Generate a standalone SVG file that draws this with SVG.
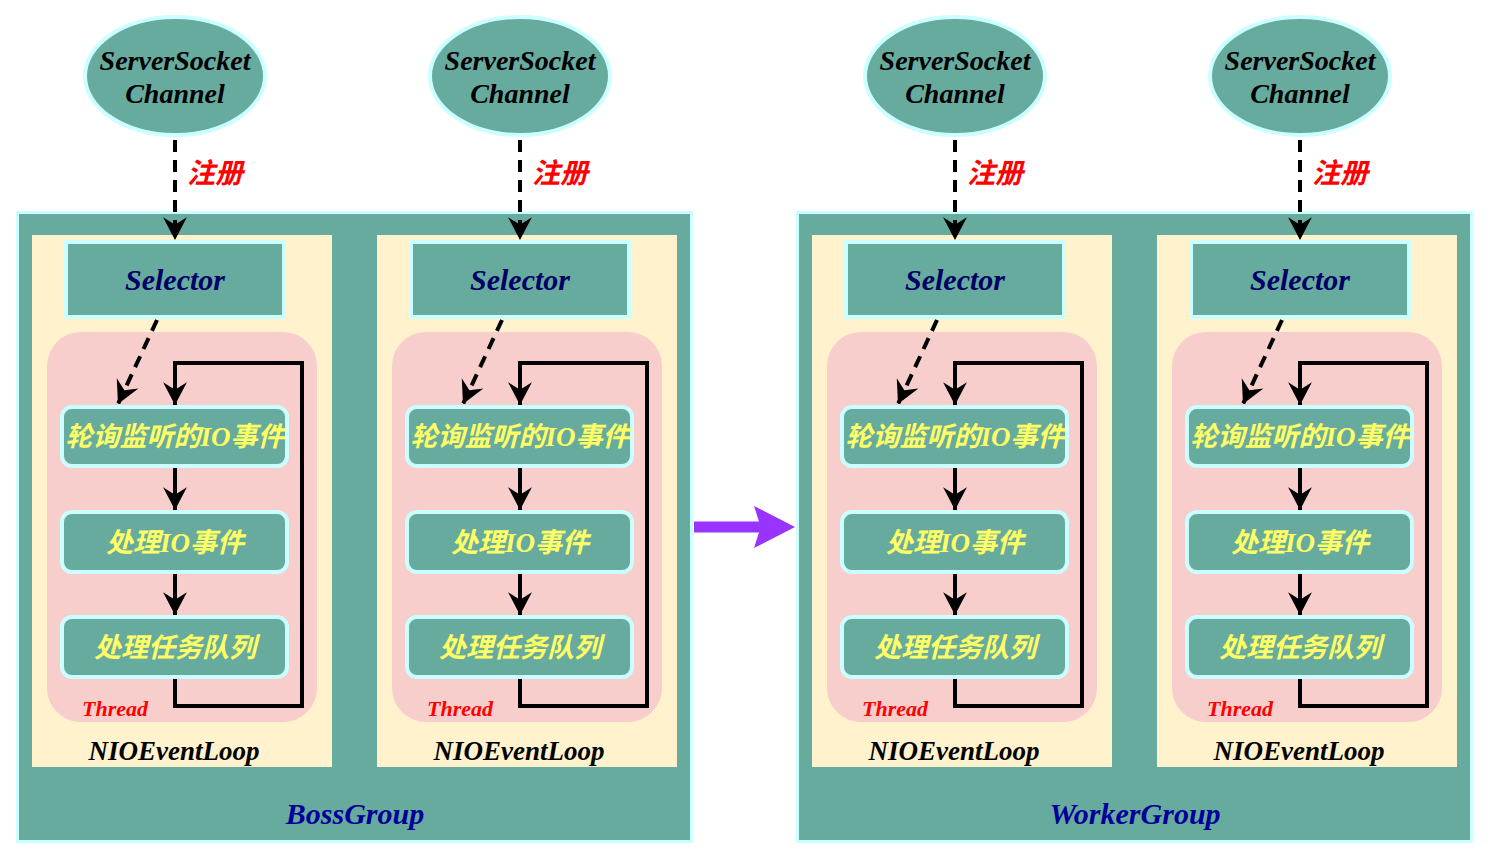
<svg xmlns="http://www.w3.org/2000/svg" width="1490" height="860" viewBox="0 0 1490 860">
<style>
.grp{fill:#67AB9F;stroke:#CCFFFF;stroke-width:3}
.loop{fill:#FFF2CC;stroke:none}
.thr{fill:#F8CECC;stroke:none}
.sel{fill:#67AB9F;stroke:#CCFFFF;stroke-width:4}
.step{fill:#67AB9F;stroke:#CCFFFF;stroke-width:4}
.ell{fill:#67AB9F;stroke:#CCFFFF;stroke-width:4}
.ser{font-family:"Liberation Serif","Noto Sans CJK SC",serif;font-style:italic;font-weight:bold;text-anchor:middle}
.cjk{font-family:"Liberation Serif","Noto Sans CJK SC",sans-serif;font-style:italic;font-weight:bold;text-anchor:middle}
.ssc{font-size:28px;fill:#000}
.selt{font-size:30px;fill:#000066}
.stept{font-size:27px;fill:#FFFF66}
.reg{font-size:28px;fill:#FF0000}
.thrt{font-size:22px;fill:#FF0000;text-anchor:start}
.nio{font-size:27px;fill:#000}
.gname{font-size:30px;fill:#000099}
.dash{fill:none;stroke:#000;stroke-width:4;stroke-dasharray:12 8}
.solid{fill:none;stroke:#000;stroke-width:4}
</style>
<defs>
<marker id="ah" markerUnits="userSpaceOnUse" markerWidth="26" markerHeight="26" viewBox="-22 -12 24 24" refX="0" refY="0" orient="auto">
<path d="M0,0 L-21,-11 L-14,0 L-21,11 Z" fill="#000"/>
</marker>
<g id="column">
<rect class="loop" x="32" y="235" width="300" height="532"/>
<rect class="thr" x="47" y="332" width="270" height="390" rx="34" ry="34"/>
</g>
</defs>

<g id="BossGroup">
<rect class="grp" x="17.5" y="212.5" width="674" height="629"/>
<text class="ser gname" x="355" y="824">BossGroup</text>
</g>
<g id="WorkerGroup">
<rect class="grp" x="797.5" y="212.5" width="674" height="629"/>
<text class="ser gname" x="1135" y="824">WorkerGroup</text>
</g>

<g id="column1" transform="translate(0,0)">
<g id="c1-loop"><use href="#column"/><text class="ser nio" x="174" y="760">NIOEventLoop</text></g>
<g id="c1-thread"><text class="ser thrt" x="82" y="716">Thread</text></g>
<g id="c1-channel"><ellipse class="ell" cx="175" cy="76" rx="90" ry="59"/><text class="ser ssc" x="175" y="70">ServerSocket</text><text class="ser ssc" x="175" y="103">Channel</text></g>
<g id="c1-selector"><rect class="sel" x="66" y="242" width="218" height="75"/><text class="ser selt" x="175" y="290">Selector</text></g>
<g id="c1-poll"><rect class="step" x="62" y="407" width="225" height="59" rx="10"/><text class="cjk stept" x="175" y="446">轮询监听的IO事件</text></g>
<g id="c1-io"><rect class="step" x="62" y="512" width="225" height="60" rx="10"/><text class="cjk stept" x="175" y="552">处理IO事件</text></g>
<g id="c1-task"><rect class="step" x="62" y="617" width="225" height="60" rx="10"/><text class="cjk stept" x="175" y="657">处理任务队列</text></g>
</g>
<g id="column2" transform="translate(345,0)">
<g id="c2-loop"><use href="#column"/><text class="ser nio" x="174" y="760">NIOEventLoop</text></g>
<g id="c2-thread"><text class="ser thrt" x="82" y="716">Thread</text></g>
<g id="c2-channel"><ellipse class="ell" cx="175" cy="76" rx="90" ry="59"/><text class="ser ssc" x="175" y="70">ServerSocket</text><text class="ser ssc" x="175" y="103">Channel</text></g>
<g id="c2-selector"><rect class="sel" x="66" y="242" width="218" height="75"/><text class="ser selt" x="175" y="290">Selector</text></g>
<g id="c2-poll"><rect class="step" x="62" y="407" width="225" height="59" rx="10"/><text class="cjk stept" x="175" y="446">轮询监听的IO事件</text></g>
<g id="c2-io"><rect class="step" x="62" y="512" width="225" height="60" rx="10"/><text class="cjk stept" x="175" y="552">处理IO事件</text></g>
<g id="c2-task"><rect class="step" x="62" y="617" width="225" height="60" rx="10"/><text class="cjk stept" x="175" y="657">处理任务队列</text></g>
</g>
<g id="column3" transform="translate(780,0)">
<g id="c3-loop"><use href="#column"/><text class="ser nio" x="174" y="760">NIOEventLoop</text></g>
<g id="c3-thread"><text class="ser thrt" x="82" y="716">Thread</text></g>
<g id="c3-channel"><ellipse class="ell" cx="175" cy="76" rx="90" ry="59"/><text class="ser ssc" x="175" y="70">ServerSocket</text><text class="ser ssc" x="175" y="103">Channel</text></g>
<g id="c3-selector"><rect class="sel" x="66" y="242" width="218" height="75"/><text class="ser selt" x="175" y="290">Selector</text></g>
<g id="c3-poll"><rect class="step" x="62" y="407" width="225" height="59" rx="10"/><text class="cjk stept" x="175" y="446">轮询监听的IO事件</text></g>
<g id="c3-io"><rect class="step" x="62" y="512" width="225" height="60" rx="10"/><text class="cjk stept" x="175" y="552">处理IO事件</text></g>
<g id="c3-task"><rect class="step" x="62" y="617" width="225" height="60" rx="10"/><text class="cjk stept" x="175" y="657">处理任务队列</text></g>
</g>
<g id="column4" transform="translate(1125,0)">
<g id="c4-loop"><use href="#column"/><text class="ser nio" x="174" y="760">NIOEventLoop</text></g>
<g id="c4-thread"><text class="ser thrt" x="82" y="716">Thread</text></g>
<g id="c4-channel"><ellipse class="ell" cx="175" cy="76" rx="90" ry="59"/><text class="ser ssc" x="175" y="70">ServerSocket</text><text class="ser ssc" x="175" y="103">Channel</text></g>
<g id="c4-selector"><rect class="sel" x="66" y="242" width="218" height="75"/><text class="ser selt" x="175" y="290">Selector</text></g>
<g id="c4-poll"><rect class="step" x="62" y="407" width="225" height="59" rx="10"/><text class="cjk stept" x="175" y="446">轮询监听的IO事件</text></g>
<g id="c4-io"><rect class="step" x="62" y="512" width="225" height="60" rx="10"/><text class="cjk stept" x="175" y="552">处理IO事件</text></g>
<g id="c4-task"><rect class="step" x="62" y="617" width="225" height="60" rx="10"/><text class="cjk stept" x="175" y="657">处理任务队列</text></g>
</g>

<g id="connectors">
<g transform="translate(0,0)">
<line class="dash" x1="175" y1="140" x2="175" y2="240" marker-end="url(#ah)"/>
<text class="cjk reg" x="215" y="183">注册</text>
<line class="dash" x1="157" y1="320" x2="118" y2="404" marker-end="url(#ah)"/>
<line class="solid" x1="175" y1="468" x2="175" y2="510" marker-end="url(#ah)"/>
<line class="solid" x1="175" y1="574" x2="175" y2="615" marker-end="url(#ah)"/>
<path class="solid" d="M175,679 L175,706 L302,706 L302,363 L175,363 L175,405" marker-end="url(#ah)"/>
</g>
<g transform="translate(345,0)">
<line class="dash" x1="175" y1="140" x2="175" y2="240" marker-end="url(#ah)"/>
<text class="cjk reg" x="215" y="183">注册</text>
<line class="dash" x1="157" y1="320" x2="118" y2="404" marker-end="url(#ah)"/>
<line class="solid" x1="175" y1="468" x2="175" y2="510" marker-end="url(#ah)"/>
<line class="solid" x1="175" y1="574" x2="175" y2="615" marker-end="url(#ah)"/>
<path class="solid" d="M175,679 L175,706 L302,706 L302,363 L175,363 L175,405" marker-end="url(#ah)"/>
</g>
<g transform="translate(780,0)">
<line class="dash" x1="175" y1="140" x2="175" y2="240" marker-end="url(#ah)"/>
<text class="cjk reg" x="215" y="183">注册</text>
<line class="dash" x1="157" y1="320" x2="118" y2="404" marker-end="url(#ah)"/>
<line class="solid" x1="175" y1="468" x2="175" y2="510" marker-end="url(#ah)"/>
<line class="solid" x1="175" y1="574" x2="175" y2="615" marker-end="url(#ah)"/>
<path class="solid" d="M175,679 L175,706 L302,706 L302,363 L175,363 L175,405" marker-end="url(#ah)"/>
</g>
<g transform="translate(1125,0)">
<line class="dash" x1="175" y1="140" x2="175" y2="240" marker-end="url(#ah)"/>
<text class="cjk reg" x="215" y="183">注册</text>
<line class="dash" x1="157" y1="320" x2="118" y2="404" marker-end="url(#ah)"/>
<line class="solid" x1="175" y1="468" x2="175" y2="510" marker-end="url(#ah)"/>
<line class="solid" x1="175" y1="574" x2="175" y2="615" marker-end="url(#ah)"/>
<path class="solid" d="M175,679 L175,706 L302,706 L302,363 L175,363 L175,405" marker-end="url(#ah)"/>
</g>
<polygon id="boss-to-worker" points="694,521.5 759,521.5 754,506 795,527 754,548 759,532.5 694,532.5" fill="#9933FF"/>
</g>
</svg>
